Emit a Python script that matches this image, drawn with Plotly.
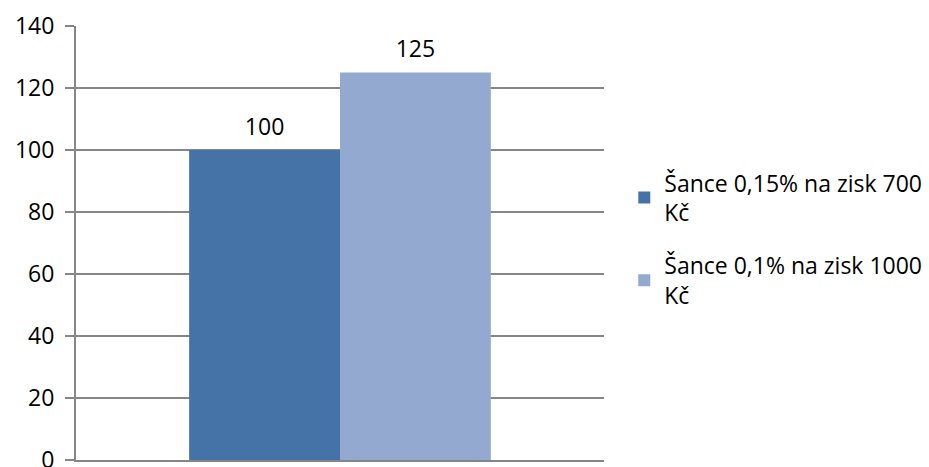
import plotly.graph_objects as go

categories = ["Kategorie"]
series_names = ["Šance 0,15% na zisk 700<br>Kč", "Šance 0,1% na zisk 1000<br>Kč"]
series_values = [[100], [125]]
colors = ["#4572A7", "#93A9CF"]
y_ticks = [0, 20, 40, 60, 80, 100, 120, 140]

FONT = "Open Sans"
FS = 23
GAP = 0.4286
fig = go.Figure()
for i, (name, vals, col) in enumerate(zip(series_names, series_values, colors)):
    fig.add_trace(go.Bar(
        x=categories, y=vals, name=name, legendgroup=f"g{i}", offsetgroup=str(i),
        marker=dict(color=col, line=dict(width=0)), hoverinfo="y",
    ))
for i, vals in enumerate(series_values):
    fig.add_trace(go.Scatter(
        x=categories, y=vals, mode="markers+text", offsetgroup=str(i),
        text=[str(v) for v in vals], textposition="top center",
        marker=dict(size=14, opacity=0), showlegend=False, hoverinfo="skip",
        textfont=dict(family=FONT, size=FS, color="black"), cliponaxis=False,
    ))

fig.update_layout(
    width=929, height=467,
    margin=dict(l=76, r=325, t=26, b=7, autoexpand=False),
    paper_bgcolor="white", plot_bgcolor="white",
    barmode="group", bargap=GAP, bargroupgap=0,
    scattermode="group", scattergap=GAP,
    font=dict(family=FONT, size=FS, color="black"),
    showlegend=True,
    legend=dict(xref="container", yref="container", x=0.672, y=0.488,
                xanchor="left", yanchor="middle",
                font=dict(family=FONT, size=FS, color="black"),
                tracegroupgap=20, bgcolor="rgba(0,0,0,0)"),
)
fig.update_xaxes(showticklabels=False, showline=True, linecolor="#868686", linewidth=2,
                 showgrid=False, ticks="", zeroline=False, automargin=False)
fig.update_yaxes(range=[0, 140], tickvals=y_ticks, showgrid=True, gridcolor="#868686",
                 gridwidth=1.5, showline=True, linecolor="#868686", linewidth=2,
                 ticks="outside", ticklen=9, tickcolor="#868686", tickwidth=1.5,
                 zeroline=False, tickfont=dict(family=FONT, size=FS, color="black"),
                 ticklabelstandoff=6, ticklabeloverflow="allow", automargin=False)

fig.write_html("out.html")
